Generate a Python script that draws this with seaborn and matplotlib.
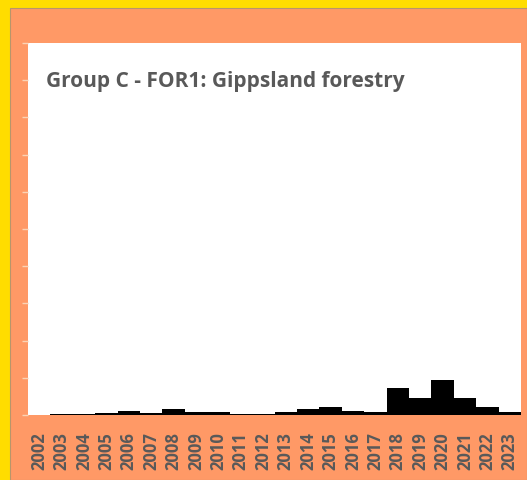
import matplotlib
matplotlib.use('Agg')
import matplotlib.pyplot as plt
from matplotlib.patches import Rectangle
import numpy as np
import pandas as pd
import seaborn as sns

# data (y scale 0-1000, ticks every 100)
years = [str(y) for y in range(2002, 2024)]
values = [1, 3, 3, 5, 10, 6, 16, 9, 7, 4, 4, 7, 16, 21, 11, 8, 73, 46, 94, 46, 22, 9]
title = 'Group C - FOR1: Gippsland forestry'

df = pd.DataFrame({'year': years, 'value': values})

sns.set_style('white')
plt.rcParams['font.family'] = ['Open Sans', 'DejaVu Sans']

fig = plt.figure(figsize=(5.27, 4.80), dpi=100)
fig.patch.set_facecolor('#FFDD00')
# orange panel
fig.patches.append(Rectangle((10 / 527, 0), 1 - 10 / 527, 1 - 8 / 480, transform=fig.transFigure,
                             facecolor='#FF9966', edgecolor='#B8956A', linewidth=0.8, zorder=-10))

ax = fig.add_axes([28 / 527, 1 - 415 / 480, (521 - 28) / 527, (415 - 43) / 480])
ax.set_zorder(5)
ax.set_facecolor('white')
sns.barplot(data=df, x='year', y='value', color='black', width=1.0, edgecolor='none',
            saturation=1, ax=ax)

ax.set_ylim(0, 1000)
ax.set_xlim(-0.5, len(years) - 0.5)
ax.set_yticks(np.arange(0, 1001, 100))
ax.set_yticklabels([])
ax.tick_params(axis='y', left=True, length=4, width=1, color='#FAD3B5', direction='out')
ax.tick_params(axis='x', bottom=False, labelrotation=90, labelsize=12, labelcolor='#595959', pad=9)
for lbl in ax.get_xticklabels():
    lbl.set_fontweight('bold')
for s in ax.spines.values():
    s.set_visible(False)
ax.set_xlabel('')
ax.set_ylabel('')

ax.text(18 / 493, 1 - 39 / 372, title, transform=ax.transAxes, fontsize=15, fontweight='bold',
        color='#595959', va='center', ha='left')

fig.savefig('out.png', dpi=100, facecolor=fig.get_facecolor())
